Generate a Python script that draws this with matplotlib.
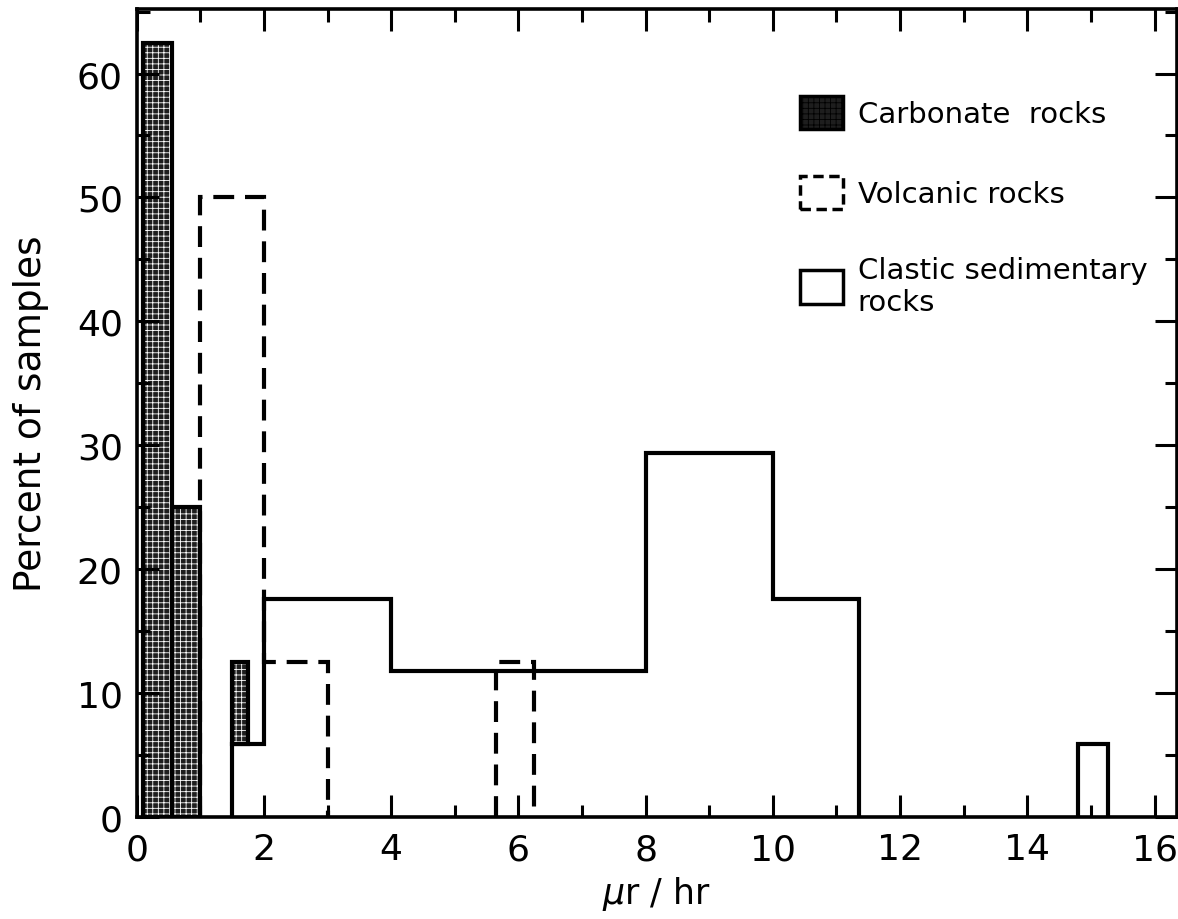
import matplotlib
matplotlib.use('Agg')
import matplotlib.pyplot as plt
from matplotlib.patches import Patch
from matplotlib.ticker import MultipleLocator

# carbonate rocks: bin left edges, widths, heights, bottoms (%)
carb_left = [0.1, 0.55, 1.5]
carb_width = [0.45, 0.45, 0.25]
carb_top = [62.5, 25.0, 12.5]
carb_bottom = [0.0, 0.0, 5.9]

# volcanic rocks: two separate runs of bins
volc_edges_a = [1.0, 2.0, 3.0]
volc_vals_a = [50.0, 12.5]
volc_edges_b = [5.65, 6.25]
volc_vals_b = [12.5]

# clastic sedimentary rocks
clas_edges_a = [1.5, 2.0, 4.0, 8.0, 10.0, 11.35]
clas_vals_a = [5.9, 17.6, 11.8, 29.4, 17.6]
clas_edges_b = [14.8, 15.27]
clas_vals_b = [5.9]

plt.rcParams['font.family'] = 'DejaVu Sans'
plt.rcParams['hatch.linewidth'] = 0.6

fig = plt.figure(figsize=(11.78, 9.2), dpi=100)
ax = fig.add_axes([0.116, 0.111, 0.883, 0.878])

heights = [t - b for t, b in zip(carb_top, carb_bottom)]
# stippled fill, then black outline
ax.bar(carb_left, heights, width=carb_width, bottom=carb_bottom, align='edge',
       facecolor='#1e1e1e', edgecolor='white', hatch='+++', linewidth=0, zorder=1)
ax.bar(carb_left, heights, width=carb_width, bottom=carb_bottom, align='edge',
       fill=False, edgecolor='black', linewidth=3, zorder=2)

dash = (0, (5, 2.6))
ax.stairs(volc_vals_a, volc_edges_a, color='black', linewidth=3, linestyle=dash, zorder=2)
ax.stairs(volc_vals_b, volc_edges_b, color='black', linewidth=3, linestyle=dash, zorder=2)
ax.stairs(clas_vals_a, clas_edges_a, color='black', linewidth=3, zorder=2)
ax.stairs(clas_vals_b, clas_edges_b, color='black', linewidth=3, zorder=2)

ax.set_xlim(0, 16.35)
ax.set_ylim(0, 65.2)
ax.xaxis.set_major_locator(MultipleLocator(2))
ax.xaxis.set_minor_locator(MultipleLocator(1))
ax.yaxis.set_major_locator(MultipleLocator(10))
ax.yaxis.set_minor_locator(MultipleLocator(5))
ax.tick_params(which='both', direction='in', top=True, right=True, width=2.2)
ax.tick_params(which='major', length=16, labelsize=26)
ax.tick_params(axis='x', which='major', pad=11)
ax.tick_params(axis='y', which='major', pad=10)
ax.tick_params(which='minor', length=9)
for s in ax.spines.values():
    s.set_linewidth(2.6)
    s.set_zorder(3)

ax.set_xlabel(r'$\mu$r / hr', fontsize=25, labelpad=6)
ax.set_ylabel('Percent of samples', fontsize=27, labelpad=20)

handles = [
    Patch(facecolor='#1e1e1e', edgecolor='black', hatch='+++', linewidth=2.5),
    Patch(facecolor='none', edgecolor='black', linestyle=(0, (3, 1.6)), linewidth=2.5),
    Patch(facecolor='none', edgecolor='black', linewidth=2.5),
]
labels = ['Carbonate  rocks', 'Volcanic rocks', 'Clastic sedimentary\nrocks']
leg = ax.legend(handles, labels, loc='upper left', bbox_to_anchor=(0.6125, 0.925),
                frameon=False, fontsize=21, handlelength=1.48, handleheight=1.37,
                handletextpad=0.5, labelspacing=1.6)

fig.savefig('out.png', dpi=100)
